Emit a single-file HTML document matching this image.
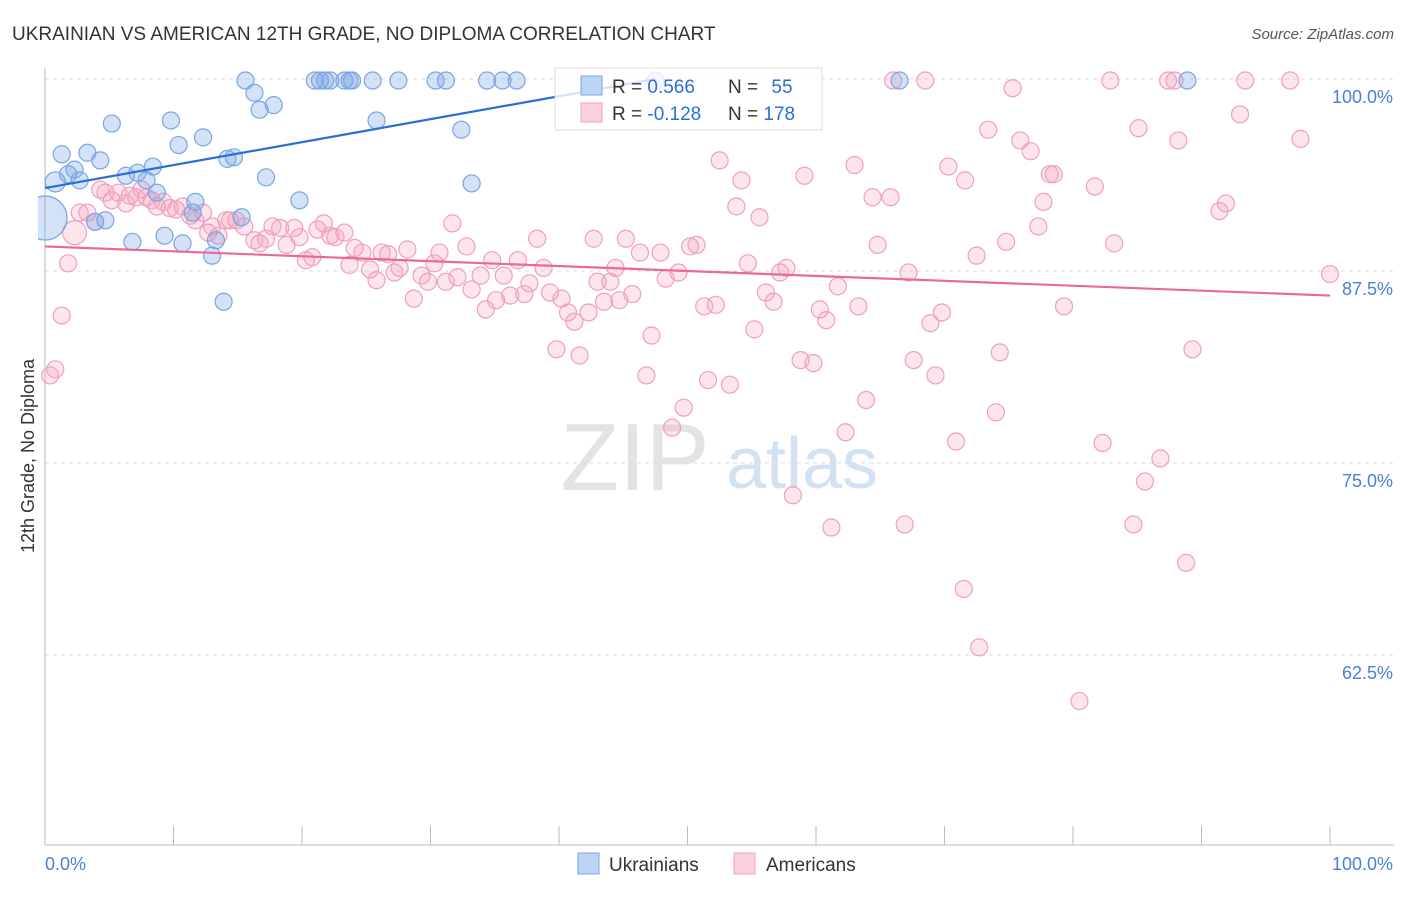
<!DOCTYPE html>
<html><head><meta charset="utf-8">
<style>
body{margin:0;background:#fff;font-family:"Liberation Sans",sans-serif;}
svg text{font-family:"Liberation Sans",sans-serif;}
</style></head>
<body>
<svg width="1406" height="892" viewBox="0 0 1406 892" xmlns="http://www.w3.org/2000/svg">
<defs><clipPath id="plotclip"><rect x="38" y="60" width="1360" height="786"/></clipPath></defs>
<text x="12" y="40" font-size="19" fill="#333">UKRAINIAN VS AMERICAN 12TH GRADE, NO DIPLOMA CORRELATION CHART</text>
<text x="1394" y="39" font-size="15" fill="#555" text-anchor="end" font-style="italic">Source: ZipAtlas.com</text>
<g>
<text x="635" y="490" font-size="96" fill="#ddd" text-anchor="middle" font-family="Liberation Serif" opacity="0.8">ZIP</text>
<text x="802" y="488" font-size="72" fill="#c8dcf2" text-anchor="middle" opacity="0.8">atlas</text>
</g>
<g id="grid"></g>
<g id="axes"></g>
<g clip-path="url(#plotclip)">
<g id="pts-pink"></g>
<g id="pts-blue"></g>
</g>
<g id="lines"></g>
<text transform="translate(34,456) rotate(-90)" font-size="18" fill="#333" text-anchor="middle">12th Grade, No Diploma</text>
<g>
<rect x="555" y="68" width="267" height="62" fill="#fff" fill-opacity="0.8" stroke="#ddd"/>
<rect x="581" y="76" width="21" height="19" fill="#bcd4f5" stroke="#7aa6e0"/>
<rect x="581" y="103" width="21" height="19" fill="#fbd0de" stroke="#f0a0bc"/>
<text x="612" y="93" font-size="19" fill="#333">R = <tspan fill="#2a6fd6">0.566</tspan></text>
<text x="728" y="93" font-size="19" fill="#333">N = <tspan fill="#2a6fd6" dx="8">55</tspan></text>
<text x="612" y="120" font-size="19" fill="#333">R = <tspan fill="#2a6fd6">-0.128</tspan></text>
<text x="728" y="120" font-size="19" fill="#333">N = <tspan fill="#2a6fd6">178</tspan></text>
</g>
<g>
<rect x="578" y="853" width="21" height="21" fill="#bcd4f5" stroke="#7aa6e0"/>
<text x="609" y="871" font-size="19" fill="#333">Ukrainians</text>
<rect x="734" y="853" width="21" height="21" fill="#fbd0de" stroke="#f0a0bc"/>
<text x="766" y="871" font-size="19" fill="#333">Americans</text>
</g>
</svg>
<script>
const yTicks=[100,87.5,75,62.5];
const yTickLabels=["100.0%","87.5%","75.0%","62.5%"];
const xTickLabels=["0.0%","100.0%"];
const blueX=[0.0,0.8,1.3,1.8,2.3,2.7,3.3,3.9,4.3,4.7,5.2,6.3,6.8,7.2,7.9,8.4,8.7,9.3,9.8,10.4,10.7,11.7,11.5,12.3,13.0,13.3,13.9,14.2,14.7,15.3,15.6,16.3,16.7,17.2,17.8,19.8,21.0,21.4,21.8,22.2,23.3,23.7,23.9,25.5,25.8,27.5,30.4,31.2,32.4,33.2,34.4,35.6,36.7,47.5,66.5,88.9];
const blueY=[90.95,93.3,95.1,93.8,94.1,93.4,95.2,90.7,94.7,90.8,97.1,93.7,89.4,93.9,93.4,94.3,92.6,89.8,97.3,95.7,89.3,92.0,91.3,96.2,88.5,89.5,85.5,94.8,94.9,91.0,99.9,99.1,98.0,93.6,98.3,92.1,99.9,99.9,99.9,99.9,99.9,99.9,99.9,99.9,97.3,99.9,99.9,99.9,96.7,93.2,99.9,99.9,99.9,99.9,99.9,99.9];
const pinkX=[0.4,0.8,1.3,1.8,2.3,2.7,3.3,3.9,4.3,4.7,5.2,5.7,6.3,6.6,7.1,7.5,7.9,8.3,8.7,9.2,9.7,10.2,10.7,11.3,11.7,12.3,12.7,13.0,13.5,14.1,14.4,14.9,15.5,16.3,16.7,17.2,17.7,18.3,18.8,19.4,19.8,20.3,20.8,21.2,21.7,22.2,22.6,23.3,23.7,24.1,24.7,25.3,25.8,26.2,26.7,27.2,27.6,28.2,28.7,29.3,29.8,30.3,30.7,31.2,31.7,32.1,32.8,33.2,33.9,34.3,34.8,35.1,35.7,36.2,36.8,37.3,37.7,38.3,38.8,39.3,39.8,40.2,40.7,41.2,41.6,42.3,42.7,43.0,43.5,44.0,44.4,44.7,45.2,45.7,46.3,46.8,47.2,47.9,48.3,48.8,49.3,49.7,50.2,50.7,51.3,51.6,52.2,52.5,53.3,53.8,54.2,54.7,55.2,55.6,56.1,56.7,57.2,57.7,58.2,58.8,59.1,59.8,60.3,60.8,61.2,61.7,62.3,63.0,63.3,63.9,64.4,64.8,65.8,66.0,66.9,67.2,67.6,68.5,68.9,69.3,69.8,70.3,70.9,71.5,71.6,72.5,72.7,73.4,74.0,74.3,74.8,75.3,75.9,76.7,77.3,77.7,78.2,78.5,79.3,80.5,81.7,82.3,82.9,83.2,84.7,85.1,85.6,86.8,87.4,87.9,88.2,88.8,89.3,91.4,91.9,93.0,93.4,96.9,97.7,100.0];
const pinkY=[80.7,81.1,84.6,88.0,90.0,91.3,91.3,90.7,92.8,92.6,92.1,92.6,91.9,92.4,92.3,92.8,92.3,92.1,91.7,92.0,91.6,91.5,91.7,91.1,90.8,91.3,90.0,90.4,89.8,90.8,90.8,90.8,90.4,89.5,89.3,89.6,90.4,90.3,89.2,90.3,89.7,88.2,88.4,90.2,90.6,89.8,89.7,90.0,87.9,89.0,88.7,87.6,86.9,88.7,88.6,87.4,87.7,88.9,85.7,87.2,86.8,88.0,88.7,86.8,90.6,87.1,89.1,86.3,87.2,85.0,88.2,85.6,87.2,85.9,88.2,86.0,86.7,89.6,87.7,86.1,82.4,85.7,84.8,84.2,82.0,84.8,89.6,86.8,85.5,86.8,87.7,85.6,89.6,86.0,88.7,80.7,83.3,88.7,87.0,77.3,87.4,78.6,89.1,89.2,85.2,80.4,85.3,94.7,80.1,91.7,93.4,88.0,83.7,91.0,86.1,85.5,87.4,87.7,72.9,81.7,93.7,81.5,85.0,84.3,70.8,86.5,77.0,94.4,85.2,79.1,92.3,89.2,92.3,99.9,71.0,87.4,81.7,99.9,84.1,80.7,84.8,94.3,76.4,66.8,93.4,88.5,63.0,96.7,78.3,82.2,89.4,99.4,96.0,95.3,90.4,92.0,93.8,93.8,85.2,59.5,93.0,76.3,99.9,89.3,71.0,96.8,73.8,75.3,99.9,99.9,96.0,68.5,82.4,91.4,91.9,97.7,99.9,99.9,96.1,87.3];
const blueTrend=[[0,92.9],[47.5,100.0]];
const pinkTrend=[[0,89.1],[100,85.9]];

const NS="http://www.w3.org/2000/svg";
const X0=45,X1=1330,Y100=79,PX_PER=15.36;
const sx=v=>X0+(v/100)*(X1-X0);
const sy=v=>Y100+(100-v)*PX_PER;
function mk(tag,attrs,parent){const e=document.createElementNS(NS,tag);for(const k in attrs)e.setAttribute(k,attrs[k]);parent.appendChild(e);return e;}
const grid=document.getElementById('grid'),axes=document.getElementById('axes');
yTicks.forEach((t,i)=>{
  const l=mk('line',{x1:X0,x2:1394,y1:sy(t),y2:sy(t),stroke:'#ddd','stroke-dasharray':'4,4'},grid);
  
  
  const tx=mk('text',{x:1393,y:sy(t)+24,'font-size':18,fill:'#4a7fd8','text-anchor':'end'},axes);
  tx.textContent=yTickLabels[i];
  
  
});
mk('line',{x1:X0,x2:X0,y1:68,y2:845,stroke:'#bbb'},axes);
mk('line',{x1:X0,x2:1394,y1:845,y2:845,stroke:'#bbb'},axes);
for(let i=0;i<=10;i++){const t=mk('line',{x1:sx(i*10),x2:sx(i*10),y1:826,y2:845,stroke:'#bbb'},axes);
  
  }
const xl0=mk('text',{x:45,y:870,'font-size':18,fill:'#4a7fd8'},axes);xl0.textContent=xTickLabels[0];


const xl1=mk('text',{x:1393,y:870,'font-size':18,fill:'#4a7fd8','text-anchor':'end'},axes);xl1.textContent=xTickLabels[1];



const pg=document.getElementById('pts-pink');
pinkX.forEach((v,i)=>{const r=(i===4)?12:8.5;
  const c=mk('circle',{cx:sx(v),cy:sy(pinkY[i]),r:r,fill:'rgba(243,160,190,0.28)',stroke:'#f0a0bc','stroke-width':1.2},pg);
  
  });
const bg=document.getElementById('pts-blue');
blueX.forEach((v,i)=>{const r=(i===0)?22:(i===1?10:8.5);
  const c=mk('circle',{cx:sx(v),cy:sy(blueY[i]),r:r,fill:'rgba(120,165,230,0.32)',stroke:'#7aa6e0','stroke-width':1.2},bg);
  
  });
const lg=document.getElementById('lines');
const bl=mk('line',{x1:sx(blueTrend[0][0]),y1:sy(blueTrend[0][1]),x2:sx(blueTrend[1][0]),y2:sy(blueTrend[1][1]),stroke:'#2a6fd6','stroke-width':2.2},lg);


const pl=mk('line',{x1:sx(pinkTrend[0][0]),y1:sy(pinkTrend[0][1]),x2:sx(pinkTrend[1][0]),y2:sy(pinkTrend[1][1]),stroke:'#e8699a','stroke-width':2.2},lg);


</script>
</body></html>
